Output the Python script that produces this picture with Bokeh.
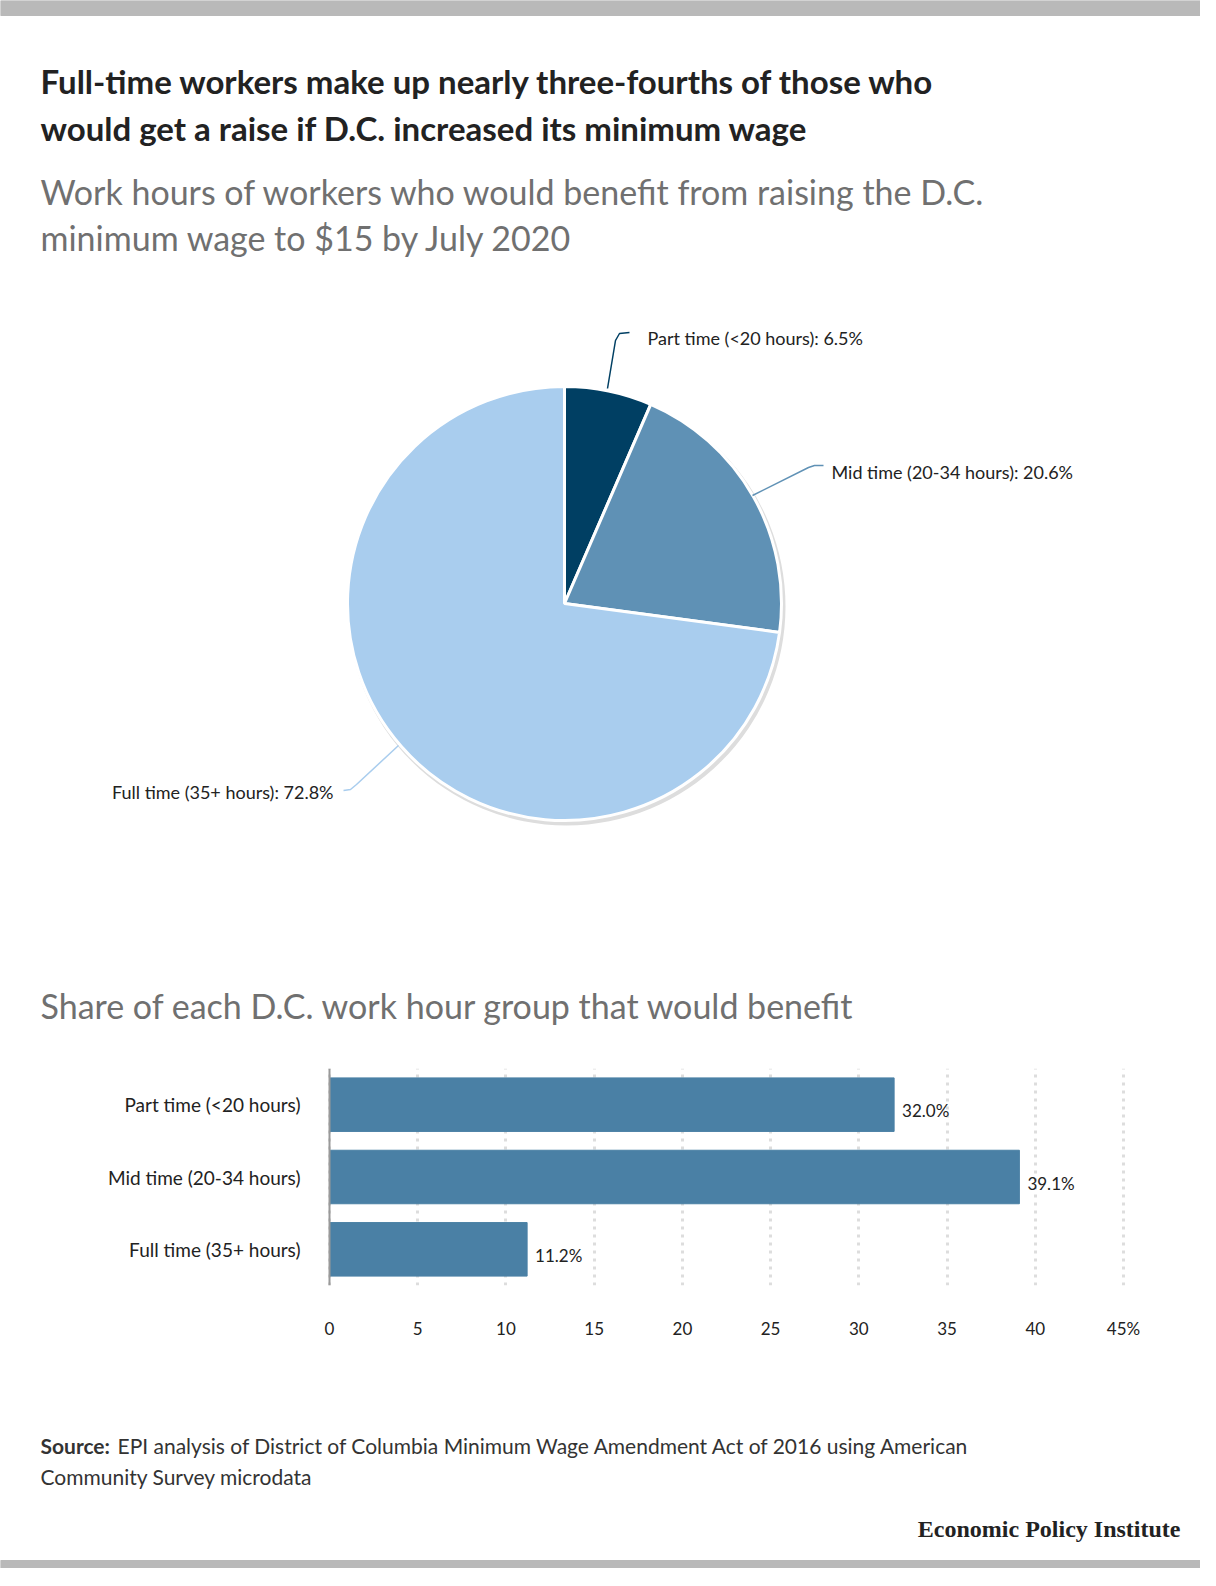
import math
from bokeh.plotting import figure
from bokeh.layouts import column
from bokeh.models import Range1d, FactorRange, ColumnDataSource, Span
from bokeh.core.properties import value
from bokeh.embed import file_html
from bokeh.resources import INLINE

# data
pie_labels = ["Part time (<20 hours): 6.5%", "Mid time (20-34 hours): 20.6%", "Full time (35+ hours): 72.8%"]
pie_shares = [6.5, 20.6, 72.8]
pie_colors = ["#003f63", "#5f91b5", "#a9cdee"]
bar_cats = ["Part time (<20 hours)", "Mid time (20-34 hours)", "Full time (35+ hours)"]
bar_vals = [32.0, 39.1, 11.2]
x_ticks = [0, 5, 10, 15, 20, 25, 30, 35, 40, 45]

FONT = value("Lato")
W = 1200
H1 = 1040

def Y(py):
    return H1 - py

f1 = figure(width=W, height=H1, x_range=Range1d(0, W), y_range=Range1d(0, H1),
            output_backend="svg", toolbar_location=None, min_border=0)
f1.axis.visible = False
f1.grid.visible = False
f1.outline_line_color = None

f1.quad(left=0, right=W, bottom=Y(15), top=Y(0), color="#b9b9b9")
f1.text(x=[40, 40], y=[Y(80), Y(127)],
        text=["Full-time workers make up nearly three-fourths of those who",
              "would get a raise if D.C. increased its minimum wage"],
        text_font=FONT, text_font_size="33px", text_font_style="bold",
        text_color="#222222", text_baseline="middle")
f1.text(x=[40, 40], y=[Y(191), Y(237)],
        text=["Work hours of workers who would benefit from raising the D.C.",
              "minimum wage to $15 by July 2020"],
        text_font=FONT, text_font_size="34px", text_color="#707070", text_baseline="middle")
f1.text(x=[40], y=[Y(1005)], text=["Share of each D.C. work hour group that would benefit"],
        text_font=FONT, text_font_size="34px", text_color="#707070", text_baseline="middle")

# pie
cx, cy, r = 564, Y(603), 217
starts, ends = [], []
a = math.pi / 2
tot = sum(pie_shares)
for s in pie_shares:
    starts.append(a)
    a -= s / tot * 2 * math.pi
    ends.append(a)
f1.circle(x=[cx + 2], y=[cy - 3], radius=r + 2, fill_color="#dddddd", line_color=None)
f1.wedge(x=cx, y=cy, radius=r, start_angle=ends, end_angle=starts,
         fill_color=pie_colors, line_color="white", line_width=3)

# leaders
f1.line(x=[607, 615, 619, 629], y=[Y(388), Y(340), Y(333), Y(332)], line_color=pie_colors[0], line_width=1.5)
f1.line(x=[752, 808, 814, 823], y=[Y(495), Y(467), Y(465), Y(465)], line_color=pie_colors[1], line_width=1.5)
f1.line(x=[398, 356, 350, 343], y=[Y(745), Y(784), Y(789), Y(790)], line_color=pie_colors[2], line_width=1.5)
f1.text(x=[647, 831], y=[Y(337), Y(471)], text=pie_labels[:2], text_font=FONT,
        text_font_size="18px", text_color="#222222", text_baseline="middle")
f1.text(x=[333], y=[Y(791)], text=pie_labels[2:], text_font=FONT, text_align="right",
        text_font_size="18px", text_color="#222222", text_baseline="middle")

# bar chart: full-width frame so the column does not re-align frames
PL, PR = 329, 77
upx = 45 / (W - PL - PR)
f2 = figure(width=W, height=360, y_range=FactorRange(*reversed(bar_cats)),
            x_range=Range1d(-PL * upx, 45 + PR * upx),
            output_backend="svg", toolbar_location=None,
            min_border_left=0, min_border_right=0, min_border_top=28, min_border_bottom=115)
f2.outline_line_color = None
src = ColumnDataSource(dict(c=bar_cats, v=bar_vals, z=[0] * 3, lab=[f"{v:.1f}%" for v in bar_vals]))
f2.hbar(y="c", right="v", left=0, height=0.74, color="#4a80a5", source=src)
f2.text(x="v", y="c", text="lab", source=src, x_offset=8, y_offset=6, text_font=FONT,
        text_font_size="17px", text_color="#222222", text_baseline="middle")
f2.text(x="z", y="c", text="c", source=src, x_offset=-29, text_font=FONT, text_align="right",
        text_font_size="19px", text_color="#222222", text_baseline="middle")
f2.add_layout(Span(location=0, dimension="height", line_color="#999999", line_width=2))
f2.yaxis.visible = False
f2.xaxis.ticker = x_ticks
f2.xaxis.major_label_overrides = {45: "45%"}
f2.xaxis.axis_line_color = None
f2.xaxis.major_tick_line_color = None
f2.xaxis.minor_tick_line_color = None
f2.xaxis.major_label_text_font = "Lato"
f2.xaxis.major_label_text_font_size = "17px"
f2.xaxis.major_label_text_color = "#222222"
f2.xaxis.major_label_standoff = 26
f2.ygrid.visible = False
f2.xgrid.grid_line_color = "#dddddd"
f2.xgrid.grid_line_width = 3
f2.xgrid.grid_line_dash = "3 5"

# footer
H3 = 168
f3 = figure(width=W, height=H3, x_range=Range1d(0, W), y_range=Range1d(0, H3),
            output_backend="svg", toolbar_location=None, min_border=0)
f3.axis.visible = False
f3.grid.visible = False
f3.outline_line_color = None
f3.text(x=[40], y=[H3 - 45], text=["Source:"], text_font=FONT, text_font_style="bold",
        text_font_size="21px", text_color="#333333", text_baseline="middle")
f3.text(x=[117, 40], y=[H3 - 45, H3 - 76],
        text=["EPI analysis of District of Columbia Minimum Wage Amendment Act of 2016 using American",
              "Community Survey microdata"],
        text_font=FONT, text_font_size="21px", text_color="#333333", text_baseline="middle")
f3.text(x=[1180], y=[H3 - 128], text=["Economic Policy Institute"], text_font=value("Liberation Serif"),
        text_font_style="bold", text_font_size="24px", text_color="#222222",
        text_align="right", text_baseline="middle")
f3.quad(left=0, right=W, bottom=0, top=8, color="#b9b9b9")

p = column(f1, f2, f3, spacing=0)
open("out.html", "w").write(file_html(p, INLINE))
